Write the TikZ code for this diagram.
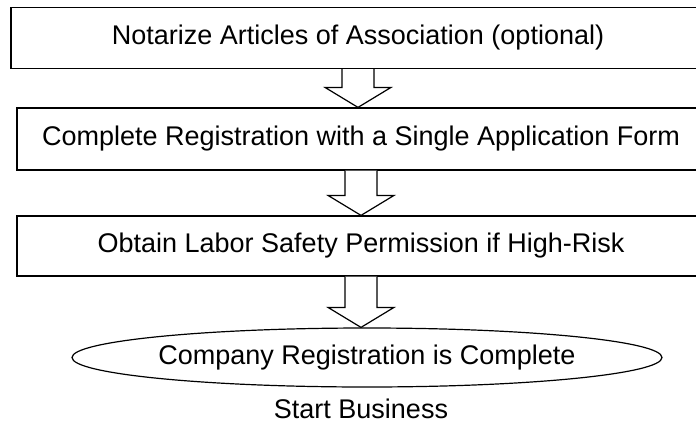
\documentclass[tikz,border=0pt]{standalone}
\usepackage{fontspec}
\setmainfont{Liberation Sans}
\usetikzlibrary{shapes.geometric,calc}
\tikzset{
  stepbox/.style={draw=black, line width=1.2pt, fill=white, inner sep=0pt,
    minimum height=61pt, font=\fontsize{27}{31}\selectfont},
  endell/.style={draw=black, line width=1.2pt, ellipse, inner sep=0pt,
    minimum width=460pt, minimum height=59pt, font=\fontsize{27}{31}\selectfont},
  plain/.style={inner sep=0pt, font=\fontsize{27}{31}\selectfont},
  blockarrow/.style={draw=black, line width=1.2pt, fill=white, line join=miter}
}
\newcommand\blockarrow[2]{%
  \draw[blockarrow] let \p1=(#1.south), \p2=(#2.north) in
    (\x1-16,\y1) -- (\x1-16,\y2+20) -- (\x1-33,\y2+20) -- (\x1,\y2)
    -- (\x1+33,\y2+20) -- (\x1+16,\y2+20) -- (\x1+16,\y1);}
\begin{document}
\begin{tikzpicture}[x=1pt,y=-1pt]
\useasboundingbox (0,0) rectangle (696,426);
\clip (0,0) rectangle (696,426);
\node[stepbox, minimum width=694pt] (b1) at (358,38) {Notarize Articles of Association (optional)};
\node[stepbox, minimum width=688pt, minimum height=62pt] (b2) at (361,139) {Complete Registration with a Single Application Form};
\node[stepbox, minimum width=688pt, minimum height=60pt] (b3) at (361,246) {Obtain Labor Safety Permission if High-Risk};
\node[endell] (e) at (367,357.5) {Company Registration is Complete};
\node[plain, anchor=base] (s) at (361,418) {Start Business};
\blockarrow{b1}{b2}
\blockarrow{b2}{b3}
\blockarrow{b3}{e}
\end{tikzpicture}
\end{document}
